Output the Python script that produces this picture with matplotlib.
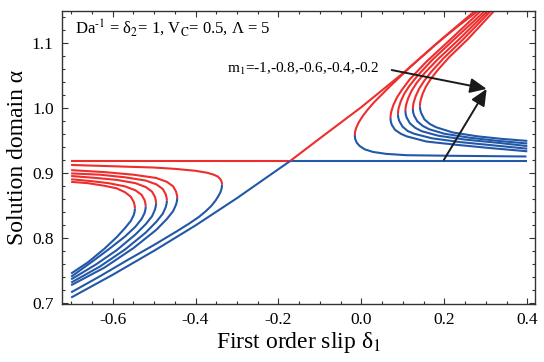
"""
Solution domain alpha vs first order slip delta_1 (bifurcation branches)
"""

import matplotlib
matplotlib.use("Agg")
import matplotlib.pyplot as plt
from matplotlib.ticker import MultipleLocator

plt.rcParams["font.family"] = ["Liberation Serif", "DejaVu Serif"]
plt.rcParams["mathtext.fontset"] = "stix"

RED = "#ee2d2d"
BLUE = "#2358a8"
LW = 1.5

# ─── data ───────────────────────────────────────────────────────────────────
cross_x = -0.172
flat_y = 0.919

# straight-through pair (exchange of branches at the crossing)
diag_blue_x = [-0.70, -0.60, -0.50, -0.40, -0.30, -0.172]
diag_blue_y = [0.709, 0.744, 0.781, 0.820, 0.862, 0.919]
diag_red_x = [-0.172, -0.10, -0.05, 0.00, 0.05, 0.10, 0.15, 0.20, 0.274]
diag_red_y = [0.919, 0.954, 0.978, 1.002, 1.028, 1.054, 1.082, 1.110, 1.150]

# outer curve of each side
left6_red_x = [-0.336, -0.337, -0.340, -0.346, -0.356, -0.372, -0.40, -0.45, -0.50, -0.60, -0.70]
left6_red_y = [0.883, 0.887, 0.891, 0.895, 0.898, 0.901, 0.904, 0.907, 0.909, 0.911, 0.913]
left6_blue_x = [-0.336, -0.337, -0.340, -0.345, -0.352, -0.362, -0.375, -0.392, -0.415,
                -0.445, -0.50, -0.566, -0.63, -0.70]
left6_blue_y = [0.883, 0.877, 0.871, 0.865, 0.858, 0.850, 0.842, 0.833, 0.823,
                0.811, 0.790, 0.766, 0.742, 0.717]

right6_red_x = [-0.016, -0.015, -0.012, -0.006, 0.003, 0.015, 0.030, 0.069, 0.12, 0.18, 0.23, 0.281]
right6_red_y = [0.959, 0.965, 0.971, 0.979, 0.988, 0.998, 1.009, 1.034, 1.065, 1.099, 1.125, 1.150]
right6_blue_x = [-0.016, -0.015, -0.011, -0.004, 0.008, 0.028, 0.060, 0.109, 0.229, 0.398]
right6_blue_y = [0.959, 0.953, 0.947, 0.942, 0.937, 0.933, 0.930, 0.928, 0.927, 0.926]

# m1 = -1, -0.8, -0.6, -0.4, -0.2 : left folds (inner -> outer)
left_red_x = [
    [-0.546, -0.547, -0.549, -0.556, -0.570, -0.590, -0.620, -0.660, -0.700],
    [-0.520, -0.521, -0.523, -0.530, -0.545, -0.570, -0.610, -0.650, -0.700],
    [-0.495, -0.496, -0.498, -0.505, -0.520, -0.545, -0.590, -0.640, -0.700],
    [-0.469, -0.470, -0.472, -0.479, -0.494, -0.520, -0.570, -0.630, -0.700],
    [-0.444, -0.445, -0.447, -0.454, -0.469, -0.495, -0.550, -0.620, -0.700],
]
left_red_y = [
    [0.846, 0.851, 0.856, 0.864, 0.871, 0.877, 0.881, 0.885, 0.887],
    [0.849, 0.854, 0.859, 0.867, 0.874, 0.880, 0.885, 0.888, 0.891],
    [0.854, 0.859, 0.864, 0.872, 0.879, 0.885, 0.890, 0.893, 0.896],
    [0.858, 0.863, 0.868, 0.876, 0.883, 0.889, 0.894, 0.898, 0.900],
    [0.862, 0.867, 0.872, 0.880, 0.887, 0.893, 0.898, 0.902, 0.905],
]
left_blue_x = left_red_x
left_blue_y = [
    [0.846, 0.841, 0.836, 0.827, 0.816, 0.802, 0.784, 0.763, 0.746],
    [0.849, 0.844, 0.839, 0.830, 0.818, 0.803, 0.783, 0.764, 0.741],
    [0.854, 0.849, 0.844, 0.834, 0.822, 0.806, 0.782, 0.760, 0.737],
    [0.858, 0.853, 0.848, 0.838, 0.826, 0.809, 0.783, 0.757, 0.732],
    [0.862, 0.857, 0.852, 0.842, 0.830, 0.813, 0.785, 0.755, 0.728],
]

# right folds (outer -> inner)
right_red_x = [
    [0.070, 0.0706, 0.072, 0.077, 0.085, 0.097, 0.117, 0.157, 0.213, 0.288],
    [0.088, 0.0886, 0.090, 0.095, 0.103, 0.115, 0.135, 0.170, 0.225, 0.298],
    [0.106, 0.1066, 0.108, 0.113, 0.121, 0.133, 0.152, 0.185, 0.235, 0.305],
    [0.124, 0.1246, 0.126, 0.131, 0.139, 0.151, 0.168, 0.198, 0.245, 0.312],
    [0.141, 0.1416, 0.143, 0.148, 0.156, 0.167, 0.184, 0.212, 0.256, 0.320],
]
right_red_y = [
    [0.985, 0.990, 0.995, 1.005, 1.016, 1.028, 1.045, 1.072, 1.105, 1.150],
    [0.991, 0.996, 1.001, 1.011, 1.022, 1.034, 1.050, 1.074, 1.107, 1.150],
    [0.996, 1.001, 1.006, 1.016, 1.027, 1.039, 1.054, 1.076, 1.106, 1.150],
    [0.999, 1.004, 1.009, 1.019, 1.030, 1.042, 1.056, 1.077, 1.106, 1.150],
    [1.003, 1.008, 1.013, 1.023, 1.034, 1.045, 1.059, 1.079, 1.106, 1.150],
]
right_blue_x = [
    [0.070, 0.0708, 0.073, 0.081, 0.095, 0.109, 0.157, 0.229, 0.310, 0.400],
    [0.088, 0.0888, 0.091, 0.099, 0.112, 0.127, 0.170, 0.240, 0.320, 0.400],
    [0.106, 0.1068, 0.109, 0.117, 0.130, 0.145, 0.185, 0.250, 0.330, 0.400],
    [0.124, 0.1248, 0.127, 0.135, 0.148, 0.163, 0.200, 0.260, 0.330, 0.400],
    [0.141, 0.1418, 0.144, 0.152, 0.165, 0.180, 0.220, 0.280, 0.340, 0.400],
]
right_blue_y = [
    [0.985, 0.980, 0.975, 0.967, 0.961, 0.957, 0.949, 0.944, 0.939, 0.934],
    [0.991, 0.986, 0.981, 0.972, 0.965, 0.961, 0.954, 0.948, 0.943, 0.938],
    [0.996, 0.991, 0.986, 0.977, 0.970, 0.965, 0.958, 0.952, 0.947, 0.942],
    [0.999, 0.994, 0.989, 0.980, 0.973, 0.968, 0.961, 0.955, 0.950, 0.946],
    [1.003, 0.998, 0.993, 0.983, 0.976, 0.971, 0.963, 0.957, 0.953, 0.950],
]

m1_label = r"m$_\mathrm{1}$=-1,-0.8,-0.6,-0.4,-0.2"
param_label = r"Da$^{\text{-1}}$ = δ$_\mathrm{2}$= 1, V$_\mathrm{C}$= 0.5, Λ = 5"
# ────────────────────────────────────────────────────────────────────────────

fig = plt.figure(figsize=(5.44, 3.62), dpi=100)
ax = fig.add_axes([0.114, 0.160, 0.869, 0.810])

kw = dict(lw=LW, solid_capstyle="butt", solid_joinstyle="round")

# flat line and diagonal, swapping colour at the crossing
ax.plot([-0.70, cross_x], [flat_y, flat_y], color=RED, **kw)
ax.plot([cross_x, 0.40], [flat_y, flat_y], color=BLUE, **kw)
ax.plot(diag_blue_x, diag_blue_y, color=BLUE, **kw)
ax.plot(diag_red_x, diag_red_y, color=RED, **kw)

ax.plot(left6_red_x, left6_red_y, color=RED, **kw)
ax.plot(left6_blue_x, left6_blue_y, color=BLUE, **kw)
ax.plot(right6_red_x, right6_red_y, color=RED, **kw)
ax.plot(right6_blue_x, right6_blue_y, color=BLUE, **kw)

for xs, ys in zip(left_red_x, left_red_y):
    ax.plot(xs, ys, color=RED, **kw)
for xs, ys in zip(left_blue_x, left_blue_y):
    ax.plot(xs, ys, color=BLUE, **kw)
for xs, ys in zip(right_red_x, right_red_y):
    ax.plot(xs, ys, color=RED, **kw)
for xs, ys in zip(right_blue_x, right_blue_y):
    ax.plot(xs, ys, color=BLUE, **kw)

# labels and arrows
ax.text(-0.690, 1.124, param_label, fontsize=12, va="center", ha="left")
ax.text(-0.323, 1.061, m1_label, fontsize=11, va="center", ha="left")
arrow = dict(arrowstyle="-|>,head_length=1.0,head_width=0.45", color="#1a1a1a",
             lw=1.4, shrinkA=0, shrinkB=0)
ax.annotate("", xy=(0.302, 1.030), xytext=(0.073, 1.059), arrowprops=arrow)
ax.annotate("", xy=(0.302, 1.030), xytext=(0.199, 0.921), arrowprops=arrow)

ax.set_xlim(-0.722, 0.418)
ax.set_ylim(0.699, 1.150)
ax.xaxis.set_major_locator(MultipleLocator(0.2))
ax.xaxis.set_minor_locator(MultipleLocator(0.05))
ax.yaxis.set_major_locator(MultipleLocator(0.1))
ax.yaxis.set_minor_locator(MultipleLocator(0.02))
ax.xaxis.set_major_formatter(plt.FuncFormatter(lambda v, p: f"{v:.1f}"))
ax.yaxis.set_major_formatter(plt.FuncFormatter(lambda v, p: f"{v:.1f}"))
ax.tick_params(which="both", direction="in", top=True, right=True,
               labelsize=12.5, width=0.8, color="#333333")
ax.tick_params(which="major", length=4, pad=6)
ax.tick_params(which="minor", length=2)
for s in ax.spines.values():
    s.set_linewidth(1.0)
    s.set_color("#333333")

ax.set_xlabel(r"First order slip δ$_\mathrm{1}$", fontsize=17, labelpad=1)
ax.set_ylabel(r"Solution domain α", fontsize=17, labelpad=3)

fig.savefig("out.png", dpi=100)
